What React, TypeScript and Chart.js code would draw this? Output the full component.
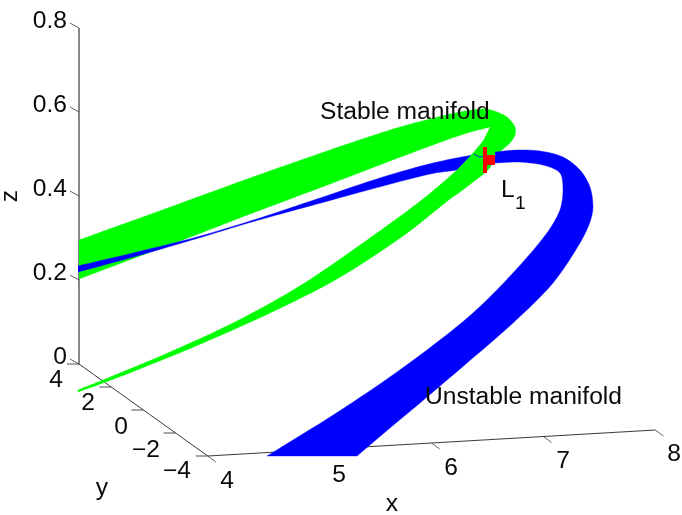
import React, { useEffect, useRef } from "react";
import { Chart, registerables } from "chart.js";

Chart.register(...registerables);

type Pt = [number, number];

// Axis tick values of the three-dimensional box
const xTicks = [4, 5, 6, 7, 8];
const yTicks = [4, 2, 0, -2, -4];
const zTicks = [0, 0.2, 0.4, 0.6, 0.8];

// Manifold outlines, in the projected plane of the view.
// A repeated point keeps a corner sharp under the curve smoothing.
const stableOuterBranch: Pt[] = [
  [79, 240], [79, 240], [165, 209], [250, 178], [330, 150], [390, 130], [430, 119], [460, 112], [485, 109],
  [497, 112], [507, 117], [515, 127], [515, 135], [515, 135], [490, 127], [490, 127], [467, 133], [430, 146], [390, 161],
  [330, 184], [250, 214], [197, 234.5], [79, 279], [79, 279],
];
const stableInnerBranch: Pt[] = [
  [490, 127], [490, 127], [515, 130], [515, 130], [515, 135], [510, 143], [502, 150], [495, 160], [487, 171], [473, 182],
  [460, 192], [450, 199], [403, 236], [337, 279], [270, 313], [203, 343], [137, 370], [103, 383],
  [78, 392], [78, 392], [78, 390], [78, 390], [103, 380], [170, 352], [237, 321], [303, 284], [370, 238], [423, 199],
  [457, 170], [473, 153], [483, 141],
];
const unstableThinBranch: Pt[] = [
  [78, 266], [78, 266], [137, 252], [197, 237], [260, 218], [317, 199], [383, 177], [433, 163], [472, 155], [472, 155],
  [457, 170], [457, 170], [430, 174], [383, 186], [317, 204], [250, 222.5], [197, 238.5], [137, 256], [78, 272], [78, 272],
];
const unstableWideBranch: Pt[] = [
  [495, 152], [495, 152], [517, 150], [540, 151], [563, 157], [580, 170], [590, 187], [593, 207], [590, 222],
  [580, 243], [553, 283], [513, 323], [467, 363], [420, 403], [390, 428], [357, 456], [357, 456], [267, 456], [267, 456],
  [293, 440], [327, 419], [377, 386], [427, 350], [473, 313], [513, 273], [547, 233], [560, 210],
  [563, 190], [560, 173], [543, 165], [517, 162], [495, 163], [495, 163],
];
const unstableFringe: Pt[] = [[474, 154], [479, 157], [484, 156]];
const l1Bar: Pt[] = [[485, 147], [485, 173]];
const l1Block: Pt[] = [[484, 160], [495, 160]];

// Affine view of the 3-D box
const project = (x: number, y: number, z: number): Pt => [
  79 + (x - 4) * 111.9 + (4 - y) * 16.1,
  364 - (x - 4) * 6.5 + (4 - y) * 11.5 - z * 420,
];

const seg = (a: Pt, dx: number, dy: number): Pt[] => [a, [a[0] + dx, a[1] + dy]];

const AXIS = "#3a3a3a";
const GREEN = "#00ff00";
const BLUE = "#0000ff";
const RED = "#ff0000";

const toXY = (pts: Pt[]) => pts.map(([x, y]) => ({ x, y }));

const band = (pts: Pt[], color: string, order: number) => ({
  data: toXY(pts),
  showLine: true,
  fill: "shape",
  tension: 0.3,
  pointRadius: 0,
  borderWidth: 0.4,
  borderColor: color,
  backgroundColor: color,
  order,
});

const stroke = (pts: Pt[], color: string, width: number, order: number) => ({
  data: toXY(pts),
  showLine: true,
  fill: false,
  tension: 0,
  pointRadius: 0,
  borderWidth: width,
  borderColor: color,
  backgroundColor: color,
  borderCapStyle: "butt",
  order,
});

type Label = { t: string; x: number; y: number; a: CanvasTextAlign; s: number; rot?: boolean };

const tickFont = 23;
const labels: Label[] = [
  ...zTicks.map((z) => ({
    t: String(z),
    x: 67,
    y: project(4, 4, z)[1] - 0.5,
    a: "right" as CanvasTextAlign,
    s: tickFont,
  })),
  { t: "4", x: 56, y: 387, a: "center", s: tickFont },
  { t: "2", x: 88, y: 410, a: "center", s: tickFont },
  { t: "0", x: 121, y: 434, a: "center", s: tickFont },
  { t: "\u22122", x: 146, y: 457, a: "center", s: tickFont },
  { t: "\u22124", x: 177, y: 478, a: "center", s: tickFont },
  { t: "4", x: 227, y: 488, a: "center", s: tickFont },
  { t: "5", x: 339, y: 482, a: "center", s: tickFont },
  { t: "6", x: 451, y: 475, a: "center", s: tickFont },
  { t: "7", x: 563, y: 468, a: "center", s: tickFont },
  { t: "8", x: 674, y: 461, a: "center", s: tickFont },
  { t: "x", x: 392, y: 511, a: "center", s: tickFont },
  { t: "y", x: 102, y: 495, a: "center", s: tickFont },
  { t: "z", x: 17, y: 196, a: "center", s: tickFont, rot: true },
  { t: "Stable manifold", x: 320, y: 119, a: "left", s: tickFont },
  { t: "Unstable manifold", x: 425, y: 404, a: "left", s: tickFont },
  { t: "L", x: 501, y: 197, a: "left", s: tickFont },
  { t: "1", x: 515, y: 209, a: "left", s: 18 },
];

const textPlugin = {
  id: "sceneText",
  afterDatasetsDraw(chart: any) {
    const { ctx, scales } = chart;
    ctx.save();
    ctx.fillStyle = "#0a0a0a";
    ctx.textBaseline = "alphabetic";
    for (const l of labels) {
      const px = scales.x.getPixelForValue(l.x);
      const py = scales.y.getPixelForValue(l.y);
      ctx.save();
      ctx.translate(px, py);
      if (l.rot) ctx.rotate(-Math.PI / 2);
      ctx.scale(1.07, 1);
      ctx.font = `${l.s}px "Liberation Sans"`;
      ctx.textAlign = l.a;
      ctx.fillText(l.t, 0, 0);
      ctx.restore();
    }
    ctx.restore();
  },
};

export default function App() {
  const ref = useRef<HTMLCanvasElement>(null);
  useEffect(() => {
    const axisSets: any[] = [
      stroke([project(4, 4, 0.8), project(4, 4, 0)], AXIS, 1.2, 50),
      stroke([project(4, 4, 0), project(4, -4, 0)], AXIS, 1, 50),
      stroke([project(4, -4, 0), project(8, -4, 0)], AXIS, 1.2, 50),
      ...zTicks.map((z) => stroke(seg(project(4, 4, z), -9, -5), AXIS, 0.8, 50)),
      ...yTicks.map((y) => stroke(seg(project(4, y, 0), -12, 0), AXIS, 0.9, 50)),
      ...xTicks.map((x) => stroke(seg(project(x, -4, 0), 8, 6), AXIS, 0.8, 50)),
    ];
    const chart = new Chart(ref.current as HTMLCanvasElement, {
      type: "scatter",
      data: {
        datasets: [
          band(stableOuterBranch, GREEN, 40),
          band(unstableThinBranch, BLUE, 30),
          band(stableInnerBranch, GREEN, 20),
          stroke(unstableFringe, BLUE, 0.8, 15),
          band(unstableWideBranch, BLUE, 10),
          stroke(l1Bar, RED, 4, 5),
          stroke(l1Block, RED, 10, 4),
          ...axisSets,
        ] as any,
      },
      options: {
        responsive: false,
        animation: false,
        layout: { padding: 0 },
        scales: {
          x: { type: "linear", display: false, min: 0, max: 682 },
          y: { type: "linear", display: false, min: 0, max: 515, reverse: true },
        },
        plugins: { legend: { display: false }, tooltip: { enabled: false } },
      },
      plugins: [textPlugin],
    } as any);
    return () => chart.destroy();
  }, []);
  return (
    <div style={{ position: "fixed", left: 0, top: 0, width: 682, height: 515, background: "#fff" }}>
      <canvas ref={ref} width={682} height={515} style={{ display: "block" }} />
    </div>
  );
}
